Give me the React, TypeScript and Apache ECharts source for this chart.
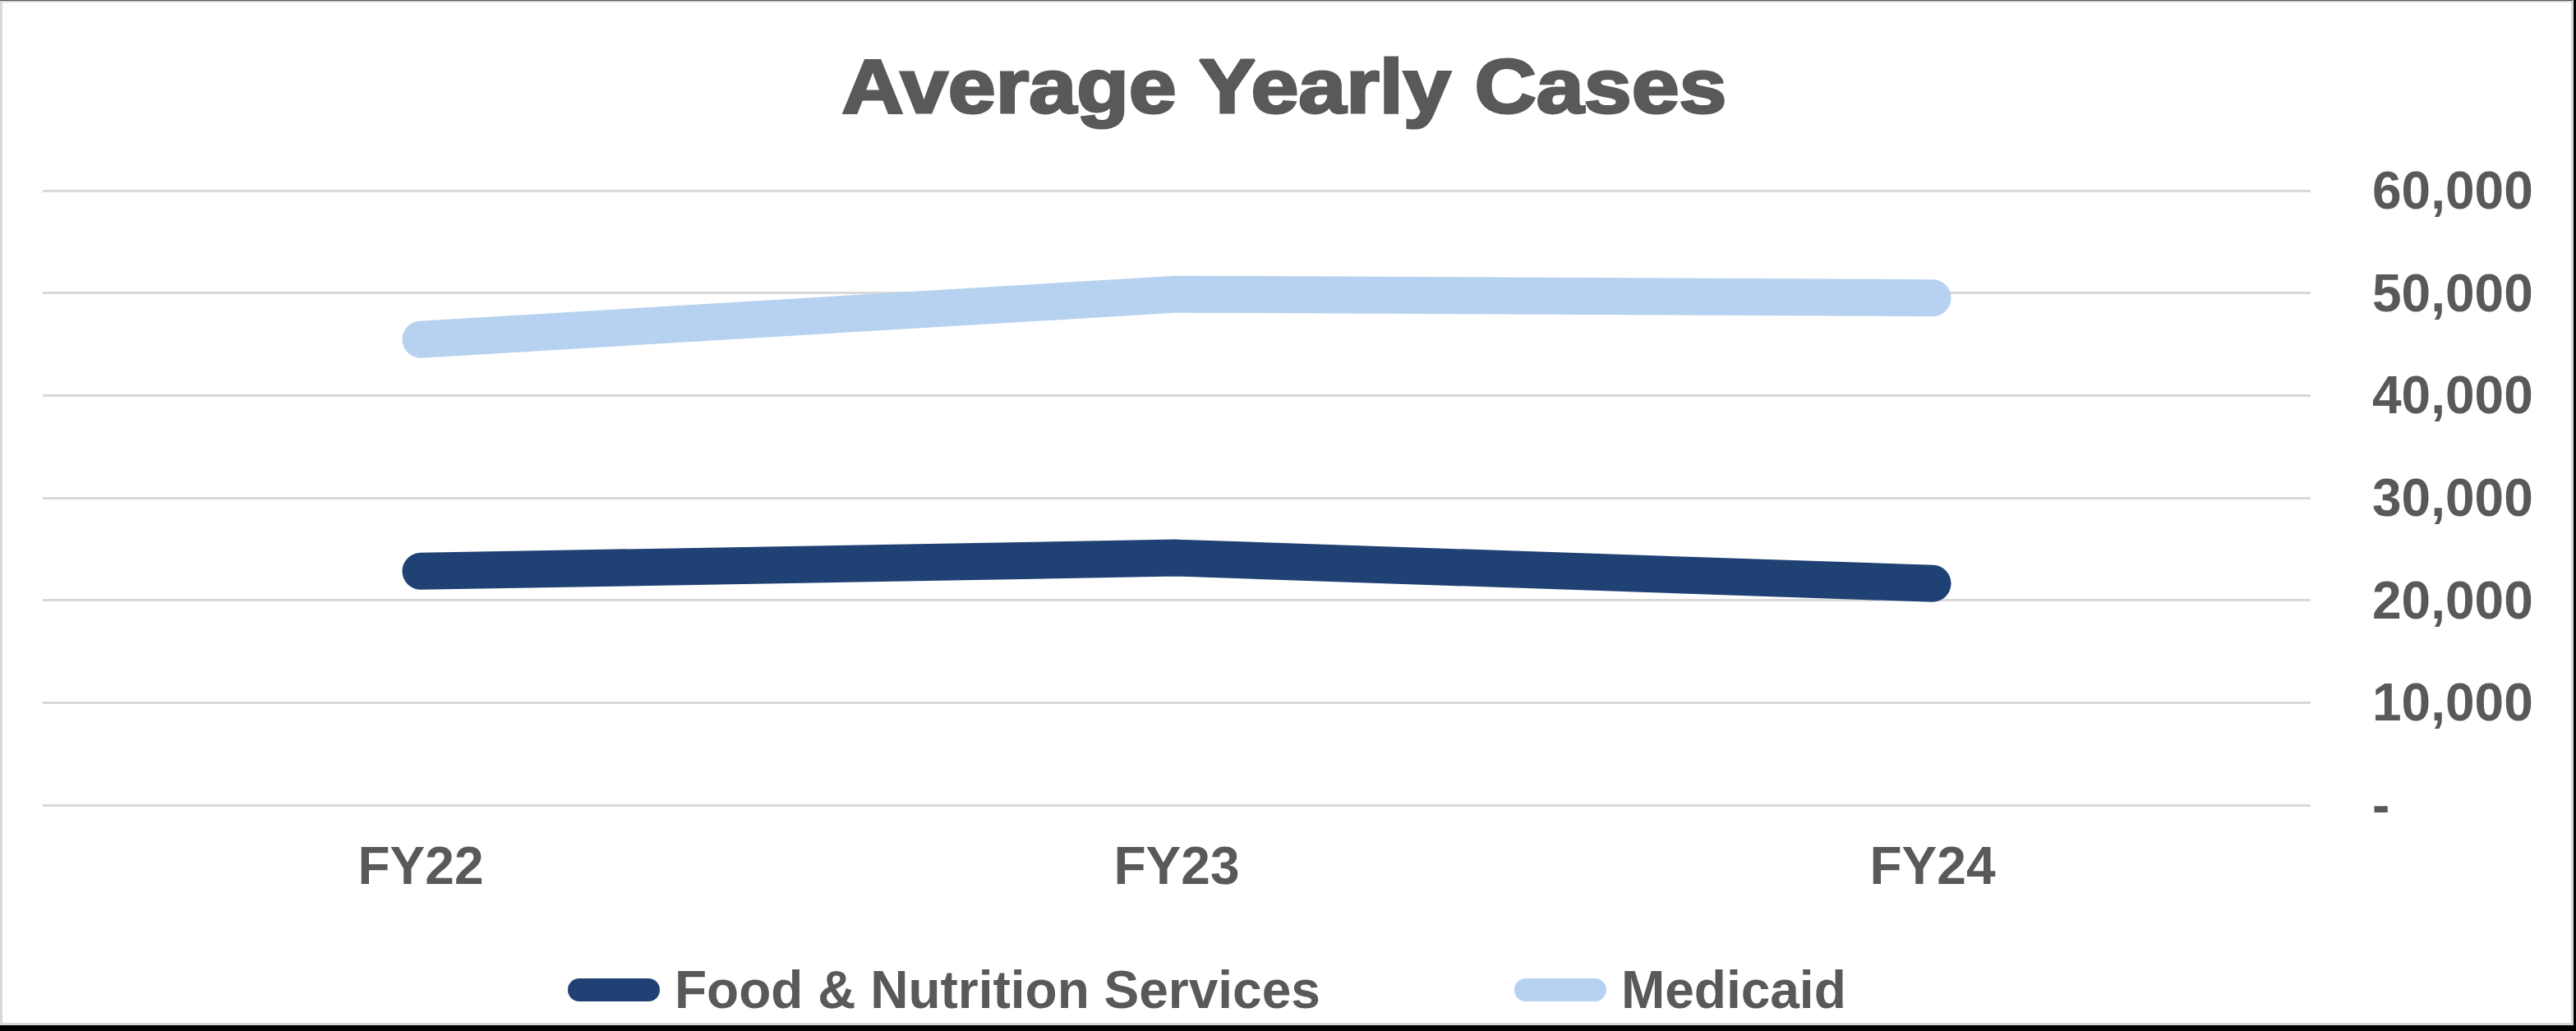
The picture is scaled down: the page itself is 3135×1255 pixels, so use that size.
import React, { useEffect, useRef } from "react";
import * as echarts from "echarts";

const categories = ["FY22", "FY23", "FY24"];
const fnsValues = [22836, 24135, 21635];
const medicaidValues = [45460, 49880, 49520];
const seriesNames = ["Food & Nutrition Services", "Medicaid"];
const yTicks = [0, 10000, 20000, 30000, 40000, 50000, 60000];
const titleText = "Average Yearly Cases";

const FONT = "'Liberation Sans', Arial, Helvetica, sans-serif";
const TEXT = "#595959";
const DARK = "#1F4173";
const LIGHT = "#B6D2F0";
const PILL = "path://M14,0 L98,0 A14,14 0 0 1 98,28 L14,28 A14,14 0 0 1 14,0 Z";

export default function App() {
  const ref = useRef<HTMLDivElement>(null);
  useEffect(() => {
    if (!ref.current) return;
    const chart = echarts.init(ref.current, undefined, { renderer: "svg" });
    const fmt = (v: number) => (v === 0 ? "-" : v.toLocaleString("en-US"));
    chart.setOption({
      animation: false,
      backgroundColor: "#ffffff",
      graphic: [
        {
          type: "rect",
          shape: { x: 3131, y: 0, width: 4, height: 1255 },
          style: { fill: "#000000" },
          silent: true,
        },
        {
          type: "rect",
          shape: { x: 0, y: 1248, width: 3135, height: 7 },
          style: { fill: "#000000" },
          silent: true,
        },
        {
          type: "rect",
          shape: { x: 1.5, y: 1.5, width: 3129, height: 1245 },
          style: { fill: "none", stroke: "#D9D9D9", lineWidth: 3 },
          silent: true,
        },
        {
          type: "rect",
          shape: { x: 0, y: 0, width: 3131, height: 1 },
          style: { fill: "#555555" },
          silent: true,
        },
        {
          type: "text",
          x: 1563,
          y: 105,
          scaleX: 1.12,
          scaleY: 1,
          style: {
            text: titleText,
            fontFamily: FONT,
            fontWeight: "bold",
            fontSize: 93,
            fill: TEXT,
            stroke: TEXT,
            lineWidth: 3,
            align: "center",
            verticalAlign: "middle",
          },
        },
      ],
      legend: {
        left: 691,
        top: 1173,
        padding: 0,
        itemWidth: 112,
        itemHeight: 28,
        itemGap: 236,
        icon: PILL,
        data: seriesNames,
        textStyle: {
          fontFamily: FONT,
          fontWeight: "bold",
          fontSize: 64,
          color: TEXT,
          padding: [0, 0, 0, 13],
        },
      },
      grid: { left: 52, right: 323, top: 232, bottom: 275 },
      xAxis: {
        type: "category",
        data: categories,
        boundaryGap: true,
        axisLine: { show: false },
        axisTick: { show: false },
        axisLabel: {
          margin: 42,
          fontFamily: FONT,
          fontWeight: "bold",
          fontSize: 64,
          lineHeight: 64,
          color: TEXT,
        },
      },
      yAxis: {
        type: "value",
        position: "right",
        min: yTicks[0],
        max: yTicks[yTicks.length - 1],
        interval: yTicks[1] - yTicks[0],
        axisLine: { show: false },
        axisTick: { show: false },
        splitLine: { lineStyle: { color: "#D9D9D9", width: 3 } },
        axisLabel: {
          margin: 75,
          align: "left",
          formatter: fmt,
          fontFamily: FONT,
          fontWeight: "bold",
          fontSize: 64,
          color: TEXT,
        },
      },
      series: [
        {
          name: seriesNames[0],
          type: "line",
          data: fnsValues,
          showSymbol: false,
          symbol: "none",
          color: DARK,
          lineStyle: { color: DARK, width: 45, cap: "round", join: "round" },
          itemStyle: { color: DARK },
        },
        {
          name: seriesNames[1],
          type: "line",
          data: medicaidValues,
          showSymbol: false,
          symbol: "none",
          color: LIGHT,
          lineStyle: { color: LIGHT, width: 45, cap: "round", join: "round" },
          itemStyle: { color: LIGHT },
        },
      ],
    });
    return () => chart.dispose();
  }, []);
  return (
    <div
      ref={ref}
      style={{ position: "absolute", left: 0, top: 0, width: 3135, height: 1255 }}
    />
  );
}
